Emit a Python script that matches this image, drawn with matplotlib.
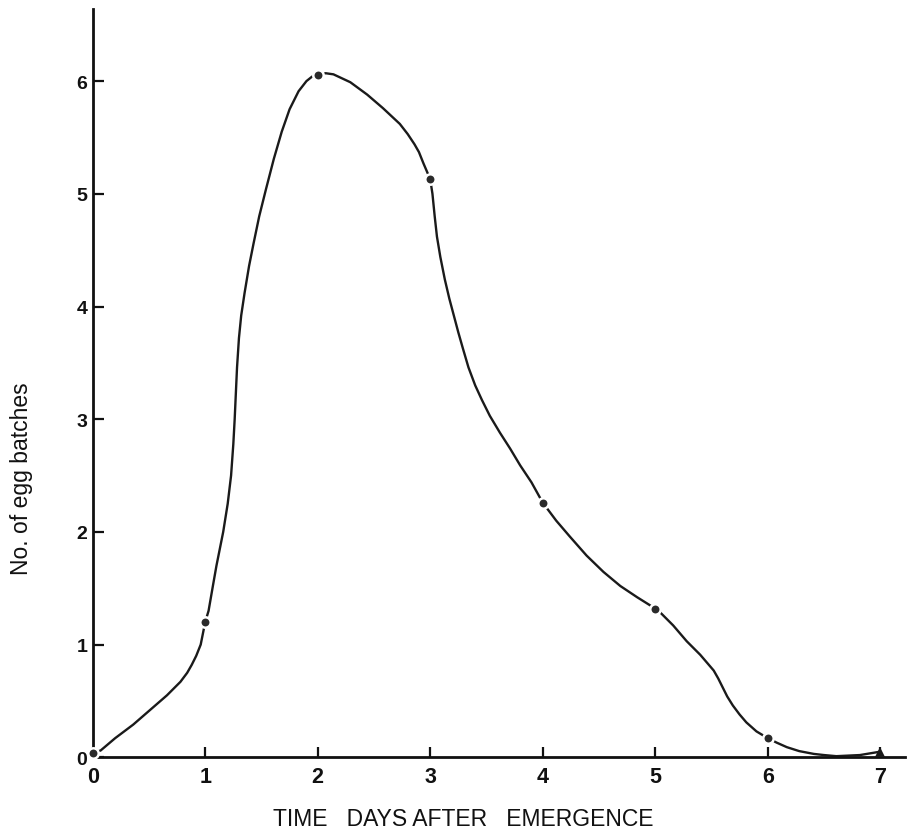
import matplotlib
matplotlib.use("Agg")
import matplotlib.pyplot as plt

# Observed points (day, number of egg batches)
days = [0, 1, 2, 3, 4, 5, 6]
batches = [0.04, 1.2, 6.05, 5.13, 2.26, 1.32, 0.17]
last_day = [7]
last_batches = [0.05]

# Hand-drawn curve path
curve_x = [0.0, 0.07, 0.20, 0.36, 0.51, 0.66, 0.78, 0.84, 0.88, 0.92, 0.96, 1.0,
           1.03, 1.07, 1.10, 1.16, 1.20, 1.23, 1.25, 1.262, 1.272, 1.283, 1.30, 1.32,
           1.35, 1.39, 1.43, 1.48, 1.54, 1.61, 1.68, 1.75, 1.83, 1.90, 1.95, 2.0, 2.07,
           2.14, 2.29, 2.44, 2.58, 2.73, 2.80, 2.86, 2.90, 2.94, 2.97, 3.0,
           3.02, 3.04, 3.06, 3.09, 3.13, 3.17, 3.21, 3.25, 3.29, 3.34, 3.40, 3.46,
           3.53, 3.62, 3.71, 3.80, 3.90, 4.0,
           4.12, 4.24, 4.39, 4.54, 4.69, 4.84, 5.0,
           5.04, 5.16, 5.28, 5.40, 5.46, 5.52, 5.56, 5.60, 5.64, 5.69, 5.75, 5.81,
           5.90, 6.0, 6.08, 6.17, 6.28, 6.41, 6.50, 6.61, 6.82, 7.0]
curve_y = [0.04, 0.06, 0.17, 0.29, 0.42, 0.55, 0.67, 0.75, 0.82, 0.90, 1.0, 1.2,
           1.30, 1.53, 1.70, 2.0, 2.25, 2.5, 2.78, 3.0, 3.22, 3.46, 3.72, 3.92,
           4.12, 4.36, 4.56, 4.80, 5.04, 5.31, 5.55, 5.75, 5.91, 6.00, 6.04, 6.05, 6.07,
           6.06, 5.99, 5.88, 5.76, 5.62, 5.53, 5.44, 5.37, 5.27, 5.20, 5.13,
           5.00, 4.80, 4.62, 4.44, 4.24, 4.07, 3.92, 3.77, 3.63, 3.46, 3.30, 3.17,
           3.03, 2.88, 2.74, 2.59, 2.44, 2.26,
           2.10, 1.96, 1.79, 1.645, 1.52, 1.42, 1.32,
           1.29, 1.17, 1.03, 0.91, 0.84, 0.77, 0.70, 0.62, 0.54, 0.46, 0.38, 0.31,
           0.23, 0.17, 0.13, 0.09, 0.055, 0.03, 0.02, 0.01, 0.02, 0.05]

x_ticks = [0, 1, 2, 3, 4, 5, 6, 7]
y_ticks = [0, 1, 2, 3, 4, 5, 6]
x_label = "TIME   DAYS AFTER   EMERGENCE"
y_label = "No. of egg batches"

plt.rcParams['font.family'] = ['Liberation Sans', 'DejaVu Sans']

W, H = 911, 837
fig = plt.figure(figsize=(W / 100, H / 100), dpi=100)
fig.patch.set_facecolor('white')
left, right, bottom, top = 92.7, 905, 758.3, 10
ax = fig.add_axes([left / W, 1 - bottom / H, (right - left) / W, (bottom - top) / H])

ax.plot(curve_x, curve_y, color='#1a1a1a', lw=1.7, solid_capstyle='round',
        solid_joinstyle='round', zorder=2, clip_on=False)
ax.plot(days, batches, 'o', color='#2a2a2a', ms=7.5, mec='white', mew=1.8, zorder=3,
        clip_on=False)
ax.plot(last_day, last_batches, '^', color='#1a1a1a', ms=7.5, mew=0, zorder=3,
        clip_on=False)

ax.set_xlim(0, (right - left) / 112.5)
ax.set_ylim(0, (bottom - top) / 112.7)
ax.set_xticks(x_ticks)
ax.set_yticks(y_ticks)
ax.set_xticklabels([str(t) for t in x_ticks], fontsize=15.5, fontweight='bold')
ax.set_yticklabels([str(t) for t in y_ticks], fontsize=14, fontweight='bold')
ax.tick_params(axis='x', direction='in', length=7, width=1.6, pad=6, colors='#111111')
ax.tick_params(axis='y', direction='in', length=8, width=1.6, pad=4, colors='#111111')

for s in ['top', 'right']:
    ax.spines[s].set_visible(False)
for s in ['left', 'bottom']:
    ax.spines[s].set_linewidth(2.0)
    ax.spines[s].set_color('#111111')
ax.set_facecolor('white')

fig.text(273 / W, 1 - 826.5 / H, x_label, fontsize=16.5, ha='left', va='baseline',
         color='#111111')
fig.text(22 / W, 1 - 479 / H, y_label, fontsize=16.5, rotation=90, ha='center',
         va='center', color='#111111')

fig.savefig('out.png', dpi=100, facecolor='white')
